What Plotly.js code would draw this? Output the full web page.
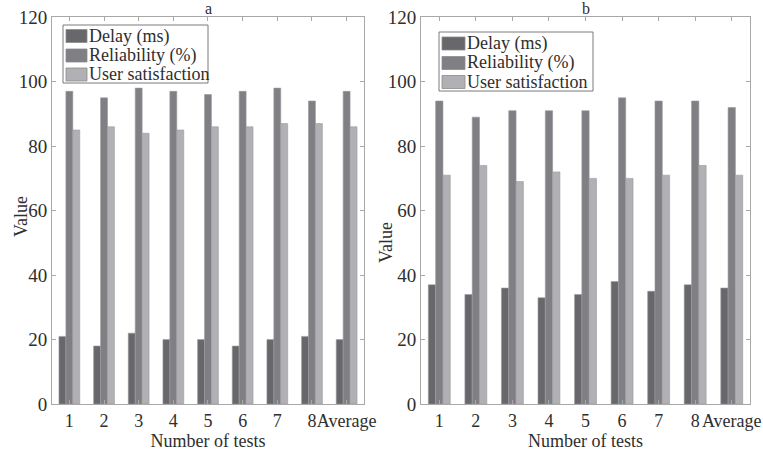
<!DOCTYPE html>
<html>
<head>
<meta charset="utf-8">
<script src="https://cdn.plot.ly/plotly-3.0.1.min.js"></script>
<style>html,body{margin:0;padding:0;background:#fff;}#chart{width:763px;height:452px;}</style>
</head>
<body>
<div id="chart"></div>
<script>
const categories = ["1","2","3","4","5","6","7","8","Average"];
const seriesNames = ["Delay (ms)","Reliability (%)","User satisfaction"];
// Panel a
const delayA = [21,18,22,20,20,18,20,21,20];
const reliabilityA = [97,95,98,97,96,97,98,94,97];
const satisfactionA = [85,86,84,85,86,86,87,87,86];
// Panel b
const delayB = [37,34,36,33,34,38,35,37,36];
const reliabilityB = [94,89,91,91,91,95,94,94,92];
const satisfactionB = [71,74,69,72,70,70,71,74,71];
const yTicks = [0,20,40,60,80,100,120];

const W = 763, H = 452;
const colors = ["#68686c","#7f7f84","#b1b1b5"];
const xpos = categories.map((c,i)=>i+1);

function mk(vals, idx, xa, ya){
  return {type:"bar", x:xpos, y:vals, name:seriesNames[idx], xaxis:xa, yaxis:ya, showlegend:false,
    marker:{color:colors[idx], line:{color:"#9a9a9e", width:0.6}}, hoverinfo:"y"};
}
const data = [
  mk(delayA,0,"x","y"), mk(reliabilityA,1,"x","y"), mk(satisfactionA,2,"x","y"),
  mk(delayB,0,"x2","y2"), mk(reliabilityB,1,"x2","y2"), mk(satisfactionB,2,"x2","y2")
];
const font = {family:"Liberation Serif", size:18, color:"#2e2e2e"};
const tickFont = {family:"Liberation Serif", size:19, color:"#2e2e2e"};
const tfont = {family:"Liberation Serif", size:16, color:"#2e2e2e"};
function xax(domain, anchor){
  return {domain:domain, anchor:anchor, range:[0.5,9.5], tickvals:xpos, ticktext:categories, tickangle:0,
    showline:true, linecolor:"#a8a8a8", linewidth:1, mirror:"ticks", ticks:"inside", ticklen:4, tickcolor:"#a8a8a8",
    showgrid:false, zeroline:false, tickfont:font,
    title:{text:"Number of tests", font:font, standoff:0}};
}
function yax(domain, anchor){
  return {domain:domain, anchor:anchor, range:[0,120], tickvals:yTicks,
    showline:true, linecolor:"#a8a8a8", linewidth:1, mirror:"ticks", ticks:"inside", ticklen:4, tickcolor:"#a8a8a8",
    showgrid:false, zeroline:false, tickfont:tickFont};
}

// Legend boxes (MATLAB-style), built from seriesNames and colors
const shapes = [], annotations = [];
const px = x => x / W, py = y => 1 - y / H;
function legendBox(box, swX, rowsY, textX){
  shapes.push({type:"rect", xref:"paper", yref:"paper", x0:px(box[0]), x1:px(box[1]), y0:py(box[3]), y1:py(box[2]),
    fillcolor:"#fff", line:{color:"#7a7a7a", width:1}, layer:"above"});
  seriesNames.forEach((name,i)=>{
    const cy = rowsY[i];
    shapes.push({type:"rect", xref:"paper", yref:"paper", x0:px(swX[0]), x1:px(swX[1]), y0:py(cy+6.5), y1:py(cy-6.5),
      fillcolor:colors[i], line:{color:"#8a8a8e", width:0.8}, layer:"above"});
    annotations.push({text:name, xref:"paper", yref:"paper", x:px(textX), y:py(cy), xanchor:"left", yanchor:"middle",
      showarrow:false, font:font});
  });
}
legendBox([63,208,25,83], [66,87], [36,55.5,74.5], 87);
legendBox([439,593,32,91], [442,465], [43.5,63,82], 465);
annotations.push({text:"a", xref:"paper", yref:"paper", x:px(208), y:py(9), xanchor:"center", yanchor:"middle", showarrow:false, font:tfont});
annotations.push({text:"b", xref:"paper", yref:"paper", x:px(586), y:py(9), xanchor:"center", yanchor:"middle", showarrow:false, font:tfont});
annotations.push({text:"Value", xref:"paper", yref:"paper", x:px(21), y:py(217), xanchor:"center", yanchor:"middle", textangle:-90, showarrow:false, font:font});
annotations.push({text:"Value", xref:"paper", yref:"paper", x:px(386), y:py(243), xanchor:"center", yanchor:"middle", textangle:-90, showarrow:false, font:font});

const layout = {
  width:W, height:H, margin:{l:0,r:0,t:0,b:0}, paper_bgcolor:"#fff", plot_bgcolor:"#fff",
  barmode:"group", bargap:0.4, bargroupgap:0, showlegend:false, font:font,
  xaxis:xax([0.0682,0.477],"y"), yaxis:yax([0.106,0.962],"x"),
  xaxis2:xax([0.5518,0.983],"y2"), yaxis2:yax([0.106,0.962],"x2"),
  shapes:shapes, annotations:annotations
};
Plotly.newPlot("chart", data, layout, {displayModeBar:false, staticPlot:true});
</script>
</body>
</html>
